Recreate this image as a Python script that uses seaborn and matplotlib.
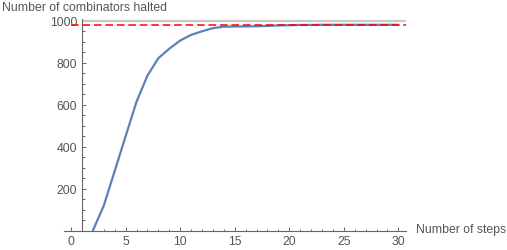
import numpy as np
import pandas as pd
import matplotlib
matplotlib.use("Agg")
import matplotlib.pyplot as plt
import seaborn as sns
from matplotlib.ticker import MultipleLocator, FixedLocator

# data
steps = [2, 3, 4, 5, 6, 7, 8, 9, 10, 11, 12, 13, 14, 15, 16, 17, 18, 19, 20,
         21, 22, 23, 24, 25, 26, 27, 28, 29, 30]
halted = [0, 119, 284, 449, 614, 738, 821, 866, 905, 932, 949, 964, 971, 972,
          972, 973, 975, 977, 978, 979, 979, 980, 980, 980, 980, 980, 980, 980, 980]
total_line = 1000
limit_line = 979
x_ticks = [0, 5, 10, 15, 20, 25, 30]
y_ticks = [200, 400, 600, 800, 1000]
x_label = "Number of steps"
y_label = "Number of combinators halted"

sns.set_style("white")
plt.rcParams['font.family'] = ['Liberation Sans', 'DejaVu Sans']

fig = plt.figure(figsize=(5.07, 2.51), dpi=100)
ax = fig.add_axes([64/507, (251-231.5)/251, (406-64)/507, (231.5-19.5)/251])

df = pd.DataFrame({"steps": steps, "halted": halted})
sns.lineplot(data=df, x="steps", y="halted", ax=ax, color="#5E81B5", lw=1.6, zorder=3)

xmin, xmax = -0.65, 30.7
ax.set_xlim(xmin, xmax)
ax.set_ylim(0, 1010)

ax.hlines(total_line, 1, xmax, color="#c8c8c8", lw=1.6, zorder=2)
ax.hlines(limit_line, 0, xmax, color="#ff0000", lw=1.1, linestyles=(0, (5, 2.5)), zorder=4)

for s in ["top", "right"]:
    ax.spines[s].set_visible(False)
ax.spines["left"].set_position(("data", 1))
ax.spines["bottom"].set_position(("data", 0))
axis_col = "#666666"
for s in ["left", "bottom"]:
    ax.spines[s].set_color(axis_col)
    ax.spines[s].set_linewidth(0.8)

ax.xaxis.set_major_locator(FixedLocator(x_ticks))
ax.xaxis.set_minor_locator(MultipleLocator(1))
ax.yaxis.set_major_locator(FixedLocator(y_ticks))
ax.yaxis.set_minor_locator(MultipleLocator(50))
ax.tick_params(which="both", direction="in", color=axis_col, width=0.7,
               labelsize=8.8, labelcolor="#555555")
ax.tick_params(which="major", length=3.2, pad=3.5)
ax.tick_params(which="minor", length=1.8)
ax.tick_params(axis="both", which="both", bottom=True, left=True)

ax.set_xlabel("")
ax.set_ylabel("")
fig.text(2/507, 1 - 8/251, y_label, ha="left", va="center", fontsize=8.8, color="#555555")
fig.text(416/507, 1 - 230/251, x_label, ha="left", va="center", fontsize=8.8, color="#555555")

fig.savefig("out.png", dpi=100)
